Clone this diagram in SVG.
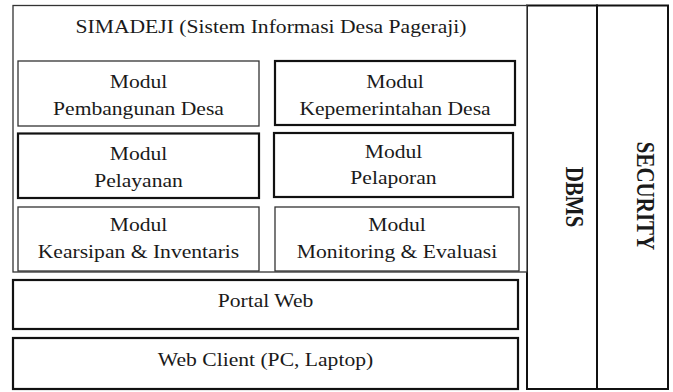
<svg xmlns="http://www.w3.org/2000/svg" width="673" height="392" viewBox="0 0 673 392" font-family="'Liberation Serif', 'DejaVu Serif', serif">
<style>
.thin{fill:#fff;stroke:#333;stroke-width:1.3}
.thick{fill:#fff;stroke:#111;stroke-width:2.2}
.col{fill:#fff;stroke:#111;stroke-width:2}
text{font-family:'Liberation Serif','DejaVu Serif',serif;font-size:18px;fill:#1a1a1a;text-anchor:middle}
.b{font-weight:bold;font-size:21px}
</style>
<rect x="0" y="0" width="673" height="392" fill="#fff"/>
<g id="dbms">
<rect class="col" x="527" y="5.5" width="70" height="383.5"/>
<text class="b" font-family="Liberation Serif" transform="translate(574,197) scale(1.2,1) rotate(90)" y="7">DBMS</text>
</g>
<g id="security">
<rect class="col" x="597" y="5.5" width="71" height="383.5"/>
<text class="b" font-family="Liberation Serif" transform="translate(645,196) scale(1.2,1) rotate(90)" y="7">SECURITY</text>
</g>
<g id="simadeji">
<rect class="thin" x="13" y="5.5" width="514" height="266.5"/>
<text transform="translate(271,33) scale(1.2,1)">SIMADEJI (Sistem Informasi Desa Pageraji)</text>
</g>
<g id="modul-pembangunan">
<rect class="thin" x="18" y="61" width="241" height="65"/>
<text transform="translate(138.5,88) scale(1.2,1)">Modul</text>
<text transform="translate(138.5,115) scale(1.2,1)">Pembangunan Desa</text>
</g>
<g id="modul-kepemerintahan">
<rect class="thick" x="275" y="61" width="240" height="64"/>
<text transform="translate(395,88) scale(1.2,1)">Modul</text>
<text transform="translate(395,115) scale(1.2,1)">Kepemerintahan Desa</text>
</g>
<g id="modul-pelayanan">
<rect class="thick" x="18" y="133.5" width="241" height="64.5"/>
<text transform="translate(138.5,160) scale(1.2,1)">Modul</text>
<text transform="translate(138.5,187) scale(1.2,1)">Pelayanan</text>
</g>
<g id="modul-pelaporan">
<rect class="thick" x="274" y="133" width="239" height="64"/>
<text transform="translate(393.5,158) scale(1.2,1)">Modul</text>
<text transform="translate(393.5,184) scale(1.2,1)">Pelaporan</text>
</g>
<g id="modul-kearsipan">
<rect class="thin" x="18" y="207" width="241" height="64"/>
<text transform="translate(138.5,231) scale(1.2,1)">Modul</text>
<text transform="translate(138.5,258) scale(1.2,1)">Kearsipan &amp; Inventaris</text>
</g>
<g id="modul-monitoring">
<rect class="thin" x="275" y="207" width="244" height="64"/>
<text transform="translate(397,231) scale(1.2,1)">Modul</text>
<text transform="translate(397,258) scale(1.2,1)">Monitoring &amp; Evaluasi</text>
</g>
<g id="portal-web">
<rect class="thick" x="13" y="280" width="505" height="49"/>
<text transform="translate(265.5,307) scale(1.2,1)">Portal Web</text>
</g>
<g id="web-client">
<rect class="thick" x="13" y="338" width="505" height="51"/>
<text transform="translate(265.5,366) scale(1.2,1)">Web Client (PC, Laptop)</text>
</g>
<g id="connectors"></g>
</svg>
